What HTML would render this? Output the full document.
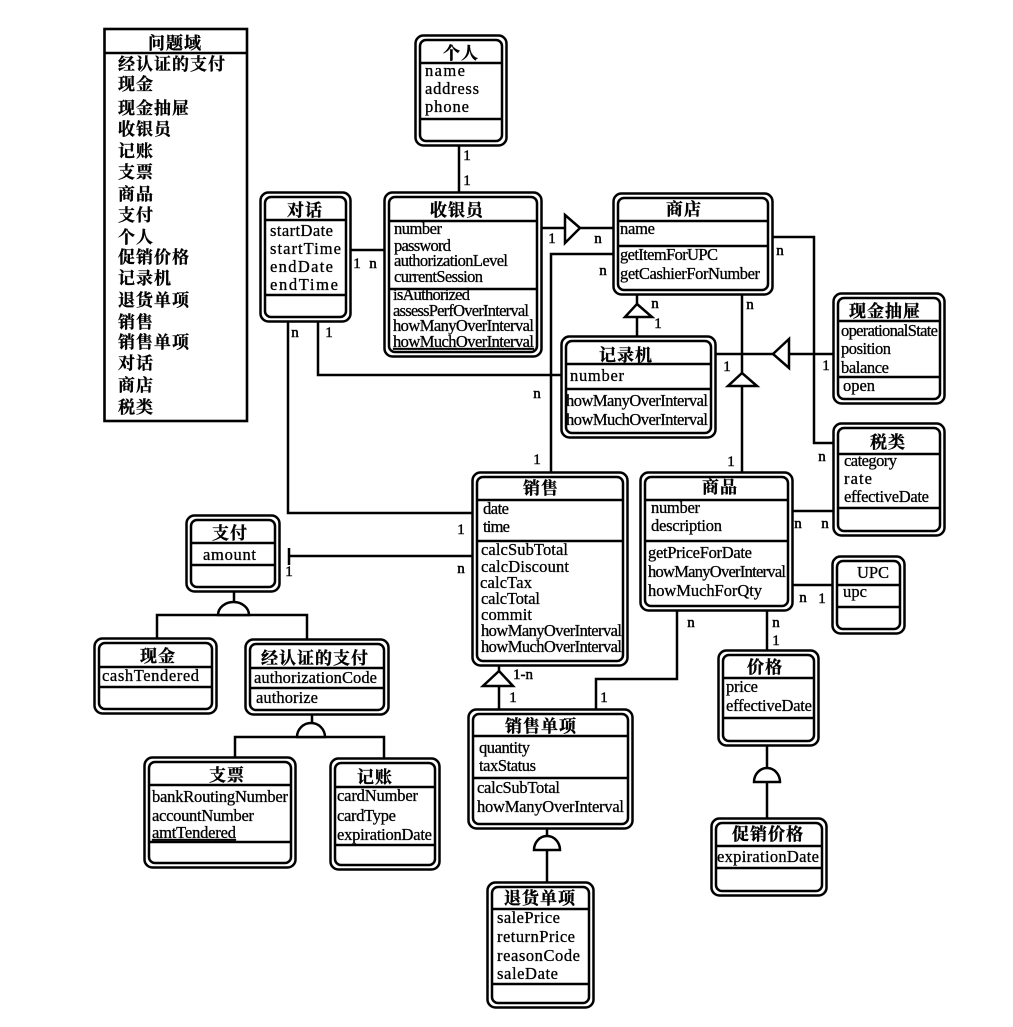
<!DOCTYPE html>
<html><head><meta charset="utf-8">
<style>
html,body{margin:0;padding:0;background:#fff}
svg{display:block}
.s{fill:none;stroke:#000;stroke-width:2.5}
.b{fill:#fff;stroke:#000;stroke-width:2.5}
.o{fill:none;stroke:#000;stroke-width:2.6}
text{fill:#000}
.t{font-family:"Liberation Sans","Noto Serif CJK SC","Noto Sans CJK SC",sans-serif;font-size:17px;font-weight:700;text-anchor:middle;letter-spacing:1px;stroke:#000;stroke-width:.35}
.i{font-family:"Liberation Sans","Noto Serif CJK SC","Noto Sans CJK SC",sans-serif;font-size:17px;font-weight:700;letter-spacing:1px;stroke:#000;stroke-width:.3}
.f{font-family:"Liberation Serif",serif;font-size:16.5px;stroke:#000;stroke-width:.3}
.l{font-family:"Liberation Serif",serif;font-size:15px;text-anchor:middle;stroke:#000;stroke-width:.45}
</style></head>
<body>
<svg width="1013" height="1027" viewBox="0 0 1013 1027" xmlns="http://www.w3.org/2000/svg">
<rect width="1013" height="1027" fill="#fff"/>

<!-- connectors -->
<g class="s">
<path d="M459 146V192M351 250H384M542 228H613M551 472V254H613"/>
<path d="M288 322V513H472M318 322V375H561"/>
<path d="M637 295V336M742 295V472M716 354H833"/>
<path d="M773 237H814V443H833"/>
<path d="M793 511H833M793 585H833"/>
<path d="M472 556H289M289 548V565"/>
<path d="M234 592V615M157 638V615H307V639"/>
<path d="M312 715V737M235 757V737H384V758"/>
<path d="M499 666V709"/>
<path d="M596 709V679H677V611"/>
<path d="M767 611V650"/>
<path d="M547 829V882"/>
<path d="M767 745V818"/>
</g>
<!-- triangles and half circles -->
<g class="b">
<path d="M565 215L580 228L565 243Z"/>
<path d="M637 304L652 317H625Z"/>
<path d="M742 373L757 386H728Z"/>
<path d="M773 354L789 339V368Z"/>
<path d="M499 671L513 686H483Z"/>
<path d="M218 615A15.500 13 0 0 1 249 615Z"/>
<path d="M297 737A14 14 0 0 1 325 737Z"/>
<path d="M534 850A13 14 0 0 1 560 850Z"/>
<path d="M754 782A13 14 0 0 1 780 782Z"/>
</g>

<!-- domain list -->
<rect x="104.500" y="29" width="142.500" height="392" class="o"/>
<path d="M104 53H247" class="o"/>
<text class="t" x="175" y="49">问题域</text>
<g class="i">
<text x="118" y="70">经认证的支付</text>
<text x="118" y="90">现金</text>
<text x="118" y="114">现金抽屉</text>
<text x="118" y="135">收银员</text>
<text x="118" y="157">记账</text>
<text x="118" y="178">支票</text>
<text x="118" y="200">商品</text>
<text x="118" y="221">支付</text>
<text x="118" y="243">个人</text>
<text x="118" y="263">促销价格</text>
<text x="118" y="284">记录机</text>
<text x="118" y="306">退货单项</text>
<text x="118" y="328">销售</text>
<text x="118" y="348">销售单项</text>
<text x="118" y="369">对话</text>
<text x="118" y="391">商店</text>
<text x="118" y="413">税类</text>
</g>

<!-- 个人 -->
<rect class="b" x="415.500" y="35.500" width="91" height="110" rx="8"/><rect class="s" x="420" y="40" width="82" height="101" rx="6"/>
<path class="s" d="M420 63H502M420 119H502"/>
<text class="t" x="461" y="59">个人</text>
<text class="f" x="425" y="76" textLength="40">name</text>
<text class="f" x="425" y="94" textLength="54">address</text>
<text class="f" x="425" y="112" textLength="44">phone</text>

<!-- 对话 -->
<rect class="b" x="260.500" y="192.500" width="90" height="129" rx="8"/><rect class="s" x="265" y="197" width="81" height="120" rx="6"/>
<path class="s" d="M265 220H346M265 295H346"/>
<text class="t" x="305" y="216">对话</text>
<text class="f" x="270" y="236" textLength="63">startDate</text>
<text class="f" x="270" y="254" textLength="71">startTime</text>
<text class="f" x="270" y="272" textLength="63">endDate</text>
<text class="f" x="270" y="290" textLength="68">endTime</text>

<!-- 收银员 -->
<rect class="b" x="384.500" y="192.500" width="157" height="164" rx="8"/><rect class="s" x="389" y="197" width="148" height="155" rx="6"/>
<path class="s" d="M389 221H537M389 289H537"/>
<text class="t" x="457" y="216">收银员</text>
<text class="f" x="394" y="234" textLength="48">number</text>
<text class="f" x="394" y="251" textLength="57">password</text>
<text class="f" x="394" y="266" textLength="114">authorizationLevel</text>
<text class="f" x="394" y="282" textLength="89">currentSession</text>
<text class="f" x="393" y="300" textLength="77">isAuthorized</text>
<text class="f" x="393" y="316" textLength="136">assessPerfOverInterval</text>
<text class="f" x="393" y="331" textLength="141">howManyOverInterval</text>
<text class="f" x="393" y="347" textLength="141" text-decoration="underline">howMuchOverInterval</text>

<!-- 商店 -->
<rect class="b" x="613.500" y="193.500" width="159" height="101" rx="8"/><rect class="s" x="618" y="198" width="150" height="92" rx="6"/>
<path class="s" d="M618 221H768M618 246H768"/>
<text class="t" x="684" y="215">商店</text>
<text class="f" x="620" y="234" textLength="35">name</text>
<text class="f" x="620" y="260" textLength="98">getItemForUPC</text>
<text class="f" x="620" y="279" textLength="140">getCashierForNumber</text>

<!-- 记录机 -->
<rect class="b" x="561.500" y="336.500" width="154" height="101" rx="8"/><rect class="s" x="566" y="341" width="145" height="92" rx="6"/>
<path class="s" d="M566 364H711M566 389H711"/>
<text class="t" x="626" y="361">记录机</text>
<text class="f" x="570" y="381" textLength="54">number</text>
<text class="f" x="566" y="406" textLength="142">howManyOverInterval</text>
<text class="f" x="566" y="425" textLength="142">howMuchOverInterval</text>

<!-- 现金抽屉 -->
<rect class="b" x="833.500" y="293.500" width="111" height="110" rx="8"/><rect class="s" x="838" y="298" width="102" height="101" rx="6"/>
<path class="s" d="M838 321H940M838 377H940"/>
<text class="t" x="885" y="317">现金抽屉</text>
<text class="f" x="841" y="336" textLength="97">operationalState</text>
<text class="f" x="841" y="354" textLength="50">position</text>
<text class="f" x="841" y="373" textLength="48">balance</text>
<text class="f" x="843" y="391" textLength="32">open</text>

<!-- 税类 -->
<rect class="b" x="833.500" y="423.500" width="111" height="112" rx="8"/><rect class="s" x="838" y="428" width="102" height="103" rx="6"/>
<path class="s" d="M838 454H940M838 508H940"/>
<text class="t" x="888" y="448">税类</text>
<text class="f" x="844" y="466" textLength="53">category</text>
<text class="f" x="844" y="484" textLength="28">rate</text>
<text class="f" x="844" y="502" textLength="85">effectiveDate</text>

<!-- 销售 -->
<rect class="b" x="472.500" y="472.500" width="155" height="193" rx="8"/><rect class="s" x="477" y="477" width="146" height="184" rx="6"/>
<path class="s" d="M477 500H623M477 541H623"/>
<text class="t" x="541" y="494">销售</text>
<text class="f" x="483" y="514" textLength="26">date</text>
<text class="f" x="483" y="532" textLength="27">time</text>
<text class="f" x="481" y="555" textLength="87">calcSubTotal</text>
<text class="f" x="481" y="572" textLength="88">calcDiscount</text>
<text class="f" x="480" y="588" textLength="52">calcTax</text>
<text class="f" x="481" y="604" textLength="59">calcTotal</text>
<text class="f" x="481" y="620" textLength="51">commit</text>
<text class="f" x="481" y="636" textLength="141">howManyOverInterval</text>
<text class="f" x="481" y="652" textLength="141">howMuchOverInterval</text>

<!-- 商品 -->
<rect class="b" x="640.500" y="472.500" width="152" height="138" rx="8"/><rect class="s" x="645" y="477" width="143" height="129" rx="6"/>
<path class="s" d="M645 500H788M645 541H788"/>
<text class="t" x="720" y="493">商品</text>
<text class="f" x="651" y="513" textLength="49">number</text>
<text class="f" x="651" y="531" textLength="71">description</text>
<text class="f" x="648" y="558" textLength="104">getPriceForDate</text>
<text class="f" x="648" y="577" textLength="138">howManyOverInterval</text>
<text class="f" x="648" y="596" textLength="114">howMuchForQty</text>

<!-- UPC -->
<rect class="b" x="832.500" y="556.500" width="72" height="77" rx="8"/><rect class="s" x="837" y="561" width="63" height="68" rx="6"/>
<path class="s" d="M837 585H900M837 607H900"/>
<text class="f" x="857" y="578" textLength="32">UPC</text>
<text class="f" x="843" y="597" textLength="24">upc</text>

<!-- 支付 -->
<rect class="b" x="186.500" y="515.500" width="93" height="76" rx="8"/><rect class="s" x="191" y="520" width="84" height="67" rx="6"/>
<path class="s" d="M191 543H275M191 565H275"/>
<text class="t" x="230" y="539">支付</text>
<text class="f" x="203" y="560" textLength="53">amount</text>

<!-- 现金 -->
<rect class="b" x="94.500" y="638.500" width="122" height="75" rx="8"/><rect class="s" x="99" y="643" width="113" height="66" rx="6"/>
<path class="s" d="M99 667H212M99 687H212"/>
<text class="t" x="158" y="662">现金</text>
<text class="f" x="102" y="681" textLength="97">cashTendered</text>

<!-- 经认证的支付 -->
<rect class="b" x="245.500" y="639.500" width="143" height="75" rx="8"/><rect class="s" x="250" y="644" width="134" height="66" rx="6"/>
<path class="s" d="M250 668H384M250 688H384"/>
<text class="t" x="315" y="664">经认证的支付</text>
<text class="f" x="254" y="683" textLength="123">authorizationCode</text>
<text class="f" x="256" y="703" textLength="62">authorize</text>

<!-- 支票 -->
<rect class="b" x="144.500" y="757.500" width="151" height="110" rx="8"/><rect class="s" x="149" y="762" width="142" height="101" rx="6"/>
<path class="s" d="M149 785H291M149 842H291"/>
<text class="t" x="227" y="781">支票</text>
<text class="f" x="152" y="802" textLength="136">bankRoutingNumber</text>
<text class="f" x="152" y="821" textLength="102">accountNumber</text>
<text class="f" x="152" y="838" textLength="84" text-decoration="underline">amtTendered</text>

<!-- 记账 -->
<rect class="b" x="330.500" y="758.500" width="109" height="111" rx="8"/><rect class="s" x="335" y="763" width="100" height="102" rx="6"/>
<path class="s" d="M335 787H435M335 845H435"/>
<text class="t" x="375" y="783">记账</text>
<text class="f" x="337" y="801" textLength="81">cardNumber</text>
<text class="f" x="337" y="821" textLength="59">cardType</text>
<text class="f" x="337" y="840" textLength="95">expirationDate</text>

<!-- 销售单项 -->
<rect class="b" x="468.500" y="709.500" width="164" height="119" rx="8"/><rect class="s" x="473" y="714" width="155" height="110" rx="6"/>
<path class="s" d="M473 736H628M473 778H628"/>
<text class="t" x="541" y="732">销售单项</text>
<text class="f" x="479" y="753" textLength="51">quantity</text>
<text class="f" x="479" y="771" textLength="57">taxStatus</text>
<text class="f" x="477" y="793" textLength="83">calcSubTotal</text>
<text class="f" x="477" y="812" textLength="147">howManyOverInterval</text>

<!-- 退货单项 -->
<rect class="b" x="487.500" y="882.500" width="106" height="125" rx="8"/><rect class="s" x="492" y="887" width="97" height="116" rx="6"/>
<path class="s" d="M492 909H589M492 984H589"/>
<text class="t" x="540" y="904">退货单项</text>
<text class="f" x="497" y="923" textLength="63">salePrice</text>
<text class="f" x="497" y="942" textLength="78">returnPrice</text>
<text class="f" x="497" y="961" textLength="83">reasonCode</text>
<text class="f" x="497" y="979" textLength="61">saleDate</text>

<!-- 价格 -->
<rect class="b" x="718.500" y="650.500" width="100" height="95" rx="8"/><rect class="s" x="723" y="655" width="91" height="86" rx="6"/>
<path class="s" d="M723 678H814M723 718H814"/>
<text class="t" x="765" y="673">价格</text>
<text class="f" x="726" y="692" textLength="32">price</text>
<text class="f" x="726" y="711" textLength="86">effectiveDate</text>

<!-- 促销价格 -->
<rect class="b" x="711.500" y="818.500" width="115" height="77" rx="8"/><rect class="s" x="716" y="823" width="106" height="68" rx="6"/>
<path class="s" d="M716 846H822M716 868H822"/>
<text class="t" x="768" y="840">促销价格</text>
<text class="f" x="717" y="862" textLength="102">expirationDate</text>

<!-- multiplicity labels -->
<g class="l">
<text x="467" y="160">1</text><text x="467" y="185">1</text>
<text x="357" y="268">1</text><text x="373" y="268">n</text>
<text x="295" y="337">n</text><text x="329" y="337">1</text>
<text x="537" y="398">n</text><text x="537" y="464">1</text>
<text x="552" y="243">1</text><text x="598" y="243">n</text><text x="603" y="275">n</text>
<text x="655" y="308">n</text><text x="658" y="328">1</text>
<text x="750" y="309">n</text><text x="731" y="466">1</text>
<text x="727" y="371">1</text><text x="826" y="370">1</text>
<text x="780" y="255">n</text><text x="822" y="461">n</text>
<text x="798" y="528">n</text><text x="825" y="528">n</text>
<text x="803" y="602">n</text><text x="822" y="603">1</text>
<text x="461" y="534">1</text><text x="461" y="573">n</text>
<text x="289" y="576">1</text>
<text x="523" y="679">1-n</text><text x="513" y="702">1</text>
<text x="604" y="702">1</text><text x="691" y="627">n</text>
<text x="776" y="627">n</text><text x="776" y="645">1</text>
</g>
</svg>
</body></html>
